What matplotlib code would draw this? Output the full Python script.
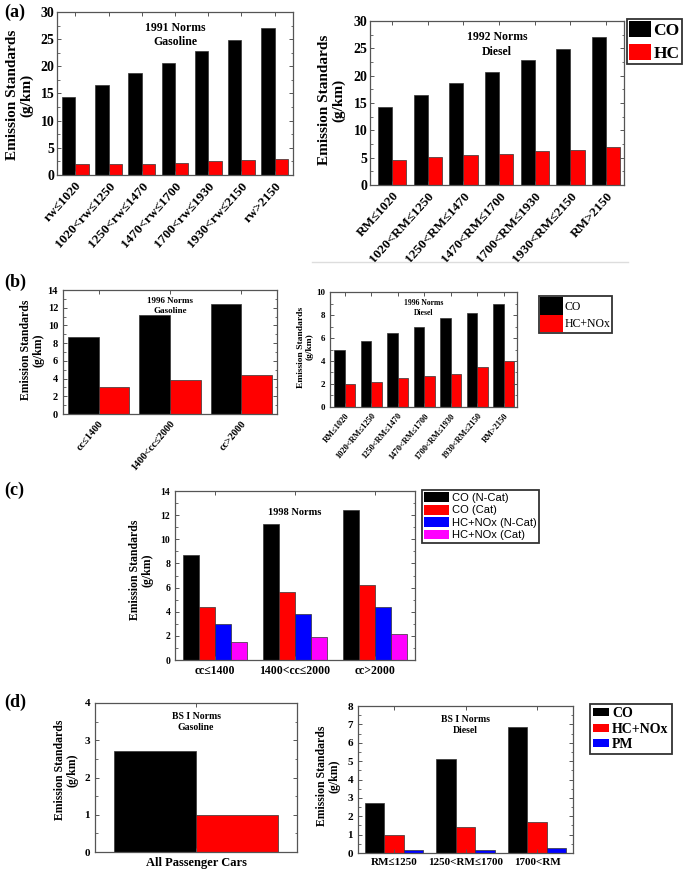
import matplotlib
matplotlib.use('Agg')
import matplotlib.pyplot as plt
import numpy as np
from matplotlib.ticker import MultipleLocator, AutoMinorLocator
from matplotlib.patches import Patch
from matplotlib.lines import Line2D

# ---------------- data ----------------
a_gas_cats = ['rw≤1020', '1020<rw≤1250', '1250<rw≤1470', '1470<rw≤1700',
              '1700<rw≤1930', '1930<rw≤2150', 'rw>2150']
a_gas_co = [14.3, 16.5, 18.7, 20.7, 22.9, 24.8, 27.1]
a_gas_hc = [2.0, 2.0, 2.0, 2.2, 2.5, 2.7, 2.9]

a_dsl_cats = ['RM≤1020', '1020<RM≤1250', '1250<RM≤1470', '1470<RM≤1700',
              '1700<RM≤1930', '1930<RM≤2150', 'RM>2150']
a_dsl_co = [14.3, 16.4, 18.7, 20.7, 22.9, 24.8, 27.1]
a_dsl_hc = [4.6, 5.05, 5.4, 5.7, 6.2, 6.45, 6.9]

b_gas_cats = ['cc≤1400', '1400<cc≤2000', 'cc>2000']
b_gas_co = [8.66, 11.2, 12.45]
b_gas_hcnox = [3.0, 3.85, 4.35]

b_dsl_cats = ['RM≤1020', '1020<RM≤1250', '1250<RM≤1470', '1470<RM≤1700',
              '1700<RM≤1930', '1930<RM≤2150', 'RM>2150']
b_dsl_co = [5.0, 5.7, 6.4, 7.0, 7.7, 8.2, 9.0]
b_dsl_hcnox = [2.0, 2.2, 2.5, 2.7, 2.9, 3.5, 4.0]

c_cats = ['cc≤1400', '1400<cc≤2000', 'cc>2000']
c_co_ncat = [8.68, 11.24, 12.45]
c_co_cat = [4.35, 5.6, 6.2]
c_hcnox_ncat = [3.0, 3.83, 4.35]
c_hcnox_cat = [1.5, 1.9, 2.18]
c_labels = ['CO (N-Cat)', 'CO (Cat)', 'HC+NOx (N-Cat)', 'HC+NOx (Cat)']

d_gas_cats = ['All Passenger Cars']
d_gas_co = [2.72]
d_gas_hcnox = [0.98]

d_dsl_cats = ['RM≤1250', '1250<RM≤1700', '1700<RM']
d_dsl_co = [2.72, 5.14, 6.86]
d_dsl_hcnox = [0.97, 1.4, 1.71]
d_dsl_pm = [0.14, 0.19, 0.25]

# ---------------- style ----------------
W, H = 685, 871
fig = plt.figure(figsize=(6.85, 8.71), dpi=100)
SERIF = 'Liberation Serif'
SANS = 'Liberation Sans'
plt.rcParams['font.family'] = [SERIF, 'DejaVu Serif']
plt.rcParams['font.weight'] = 'bold'
plt.rcParams['axes.labelweight'] = 'bold'

BLACK, RED, BLUE, MAG = '#000000', '#ff0000', '#0000ff', '#ff00ff'
EDGE = '#333333'
SPINE = '#555555'


def axpx(l, t, r, b):
    return fig.add_axes([l / W, 1 - b / H, (r - l) / W, (b - t) / H])


def bars(ax, cats, series, colors, width, xlim):
    x = np.arange(len(cats))
    k = len(series)
    for i, (vals, c) in enumerate(zip(series, colors)):
        ax.bar(x + (i - (k - 1) / 2) * width, vals, width, color=c,
               edgecolor=EDGE, linewidth=0.5)
    ax.set_xlim(*xlim)
    ax.set_xticks(x)
    for s in ax.spines.values():
        s.set_color(SPINE)
        s.set_linewidth(0.9)
    ax.tick_params(direction='in', top=True, right=True, color=SPINE,
                   length=3, width=0.7)
    ax.tick_params(which='minor', direction='in', right=True, left=True,
                   color=SPINE, length=1.8, width=0.6)
    ax.yaxis.set_minor_locator(AutoMinorLocator(2))
    return x


def ylab(x, y, fs):
    fig.text(x / W, 1 - y / H, 'Emission Standards\n(g/km)', rotation=90,
             ha='center', va='center', fontsize=fs, fontweight='bold',
             family=SERIF, linespacing=1.05)


def intext(ax, txt, fs, y=0.94):
    ax.text(0.5, y, txt, transform=ax.transAxes, ha='center', va='top',
            fontsize=fs, fontweight='bold', family=SERIF, linespacing=1.3)


# ---------------- panel (a) ----------------
ax = axpx(57, 12, 293, 175)
bars(ax, a_gas_cats, [a_gas_co, a_gas_hc], [BLACK, RED], 0.4, (-0.55, 6.55))
ax.set_ylim(0, 30)
ax.yaxis.set_major_locator(MultipleLocator(5))
ax.set_xticklabels(a_gas_cats, rotation=48, ha='right', rotation_mode='anchor',
                   fontsize=9.5, fontweight='bold')
ax.tick_params(axis='y', labelsize=10, pad=2)
intext(ax, '1991 Norms\nGasoline', 8.5)
ylab(20, 95, 11)

ax = axpx(370, 21, 624, 185)
bars(ax, a_dsl_cats, [a_dsl_co, a_dsl_hc], [BLACK, RED], 0.4, (-0.62, 6.5))
ax.set_ylim(0, 30)
ax.yaxis.set_major_locator(MultipleLocator(5))
ax.set_xticklabels(a_dsl_cats, rotation=48, ha='right', rotation_mode='anchor',
                   fontsize=9.5, fontweight='bold')
ax.tick_params(axis='y', labelsize=10, pad=2)
intext(ax, '1992 Norms\nDiesel', 8.5)
ylab(332, 100, 11)

leg = fig.legend([Patch(facecolor=BLACK), Patch(facecolor=RED)], ['CO', 'HC'],
                 loc='upper left', bbox_to_anchor=(627 / W, 1 - 19 / H),
                 frameon=True, fancybox=False, edgecolor='black',
                 prop={'family': SERIF, 'weight': 'bold', 'size': 12.5},
                 handlelength=1.25, handleheight=1.0, handletextpad=0.15,
                 borderpad=0.12, labelspacing=0.3, borderaxespad=0)
leg.get_frame().set_linewidth(1.3)

fig.add_artist(Line2D([312 / W, 628 / W], [1 - 262 / H, 1 - 262 / H],
                      color='#dddddd', lw=1.0))

# ---------------- panel (b) ----------------
ax = axpx(63, 290, 277, 414)
bars(ax, b_gas_cats, [b_gas_co, b_gas_hcnox], [BLACK, RED], 0.43, (-0.5, 2.5))
ax.set_ylim(0, 14)
ax.yaxis.set_major_locator(MultipleLocator(2))
ax.set_xticklabels(b_gas_cats, rotation=50, ha='right', rotation_mode='anchor',
                   fontsize=7.5, fontweight='bold')
ax.tick_params(axis='y', labelsize=7.5)
intext(ax, '1996 Norms\nGasoline', 6.5)
ylab(32, 350, 8.5)

ax = axpx(330, 292, 517, 407)
bars(ax, b_dsl_cats, [b_dsl_co, b_dsl_hcnox], [BLACK, RED], 0.4, (-0.55, 6.5))
ax.set_ylim(0, 10)
ax.yaxis.set_major_locator(MultipleLocator(2))
ax.set_xticklabels(b_dsl_cats, rotation=50, ha='right', rotation_mode='anchor',
                   fontsize=6, fontweight='bold')
ax.tick_params(axis='y', labelsize=6.5)
intext(ax, '1996 Norms\nDiesel', 5.5)
ylab(305, 347, 6.8)

leg = fig.legend([Patch(facecolor=BLACK), Patch(facecolor=RED)], ['CO', 'HC+NOx'],
                 loc='upper left', bbox_to_anchor=(539 / W, 1 - 296 / H),
                 frameon=True, fancybox=False, edgecolor='black',
                 prop={'family': SERIF, 'weight': 'normal', 'size': 8.5},
                 handlelength=1.9, handleheight=1.9, handletextpad=0.2,
                 borderpad=0.1, labelspacing=0.0, borderaxespad=0)
leg.get_frame().set_linewidth(1.3)

# ---------------- panel (c) ----------------
ax = axpx(175, 491, 415, 660)
bars(ax, c_cats, [c_co_ncat, c_co_cat, c_hcnox_ncat, c_hcnox_cat],
     [BLACK, RED, BLUE, MAG], 0.2, (-0.5, 2.5))
ax.set_ylim(0, 14)
ax.yaxis.set_major_locator(MultipleLocator(2))
ax.set_xticklabels(c_cats, fontsize=8.5, fontweight='bold')
ax.tick_params(axis='y', labelsize=7)
intext(ax, '1998 Norms', 7.5, y=0.9)
ylab(141, 570, 8.5)

leg = fig.legend([Patch(facecolor=c) for c in [BLACK, RED, BLUE, MAG]], c_labels,
                 loc='upper left', bbox_to_anchor=(422 / W, 1 - 490 / H),
                 frameon=True, fancybox=False, edgecolor='black',
                 prop={'family': SANS, 'weight': 'normal', 'size': 8},
                 handlelength=2.2, handleheight=1.0, handletextpad=0.3,
                 borderpad=0.2, labelspacing=0.15, borderaxespad=0)
leg.get_frame().set_linewidth(1.3)

# ---------------- panel (d) ----------------
ax = axpx(95, 703, 297, 852)
bars(ax, d_gas_cats, [d_gas_co, d_gas_hcnox], [BLACK, RED], 0.405, (-0.5, 0.5))
ax.set_ylim(0, 4)
ax.yaxis.set_major_locator(MultipleLocator(1))
ax.set_xticklabels(d_gas_cats, fontsize=9, fontweight='bold')
ax.tick_params(axis='y', labelsize=8)
intext(ax, 'BS I Norms\nGasoline', 7)
ylab(66, 770, 8.5)

ax = axpx(358, 706, 573, 853)
bars(ax, d_dsl_cats, [d_dsl_co, d_dsl_hcnox, d_dsl_pm], [BLACK, RED, BLUE],
     0.27, (-0.5, 2.5))
ax.set_ylim(0, 8)
ax.yaxis.set_major_locator(MultipleLocator(1))
ax.set_xticklabels(d_dsl_cats, fontsize=8, fontweight='bold')
ax.tick_params(axis='y', labelsize=8)
intext(ax, 'BS I Norms\nDiesel', 7)
ylab(328, 776, 8.5)

leg = fig.legend([Patch(facecolor=c) for c in [BLACK, RED, BLUE]],
                 ['CO', 'HC+NOx', 'PM'],
                 loc='upper left', bbox_to_anchor=(590 / W, 1 - 704 / H),
                 frameon=True, fancybox=False, edgecolor='black',
                 prop={'family': SERIF, 'weight': 'bold', 'size': 10},
                 handlelength=1.2, handleheight=0.5, handletextpad=0.2,
                 borderpad=0.2, labelspacing=0.2, borderaxespad=0)
leg.get_frame().set_linewidth(1.3)

# ---------------- panel labels ----------------
for lab, y in [('(a)', 12), ('(b)', 282), ('(c)', 490), ('(d)', 702)]:
    fig.text(4 / W, 1 - y / H, lab, ha='left', va='center', fontsize=13,
             fontweight='bold', family=SERIF)

fig.savefig('out.png', dpi=100)
